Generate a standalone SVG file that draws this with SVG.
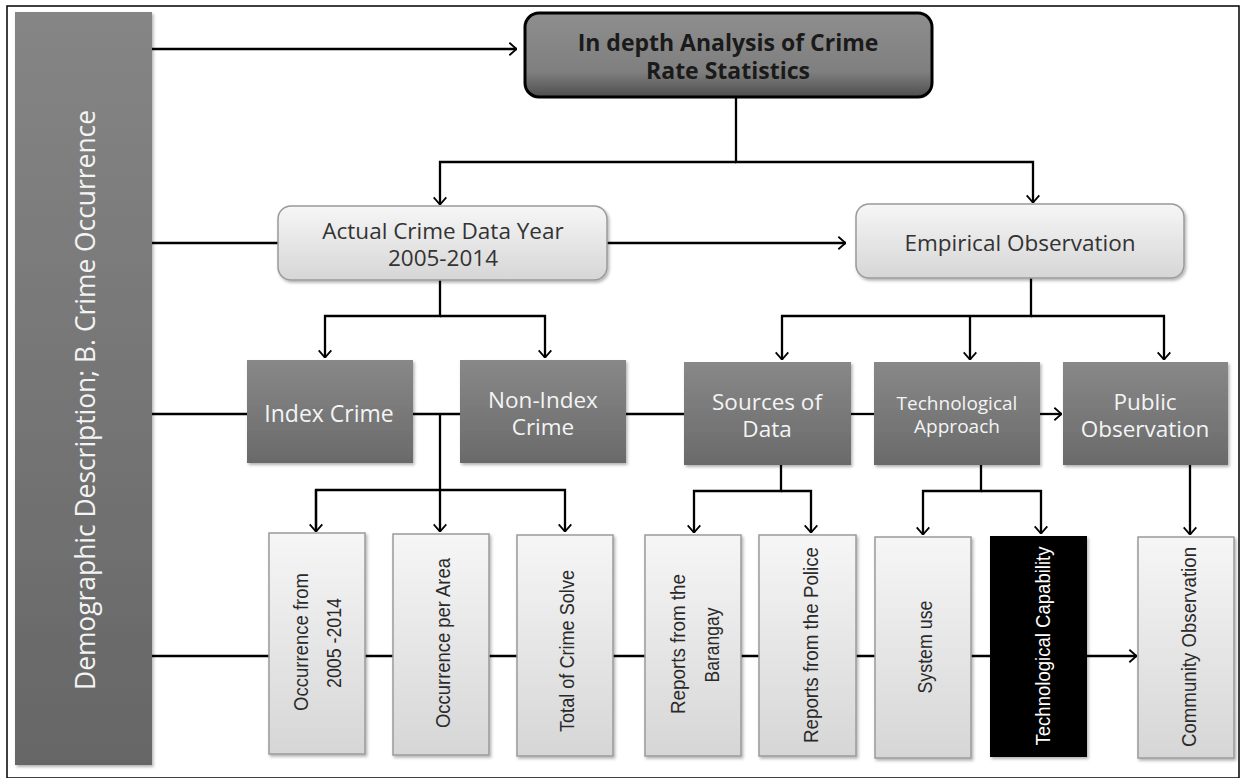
<svg xmlns="http://www.w3.org/2000/svg" width="1245" height="778" viewBox="0 0 1245 778">
<defs>
<linearGradient id="gTop" x1="0" y1="0" x2="0" y2="1">
<stop offset="0" stop-color="#8e8e8e"/><stop offset="0.7" stop-color="#7f7f7f"/><stop offset="1" stop-color="#4e4e4e"/>
</linearGradient>
<linearGradient id="gLight" x1="0" y1="0" x2="0" y2="1">
<stop offset="0" stop-color="#f6f6f6"/><stop offset="1" stop-color="#d6d6d6"/>
</linearGradient>
<linearGradient id="gMid" x1="0" y1="0" x2="0" y2="1">
<stop offset="0" stop-color="#888888"/><stop offset="1" stop-color="#6a6a6a"/>
</linearGradient>
<linearGradient id="gBar" x1="0" y1="0" x2="0" y2="1">
<stop offset="0" stop-color="#858585"/><stop offset="1" stop-color="#666666"/>
</linearGradient>
<filter id="sh" x="-10%" y="-10%" width="125%" height="125%">
<feDropShadow dx="1.5" dy="2" stdDeviation="1.5" flood-color="#000" flood-opacity="0.3"/>
</filter>
<marker id="arr" markerUnits="userSpaceOnUse" viewBox="0 0 10 16" refX="9.5" refY="8" markerWidth="9" markerHeight="15" orient="auto">
<path d="M1,1 L9,8 L1,15" fill="none" stroke="#000" stroke-width="2"/>
</marker>
</defs>
<style>
.ln{stroke:#000;stroke-width:2.3;fill:none}
.mid{fill:url(#gMid);filter:url(#sh)}
.lt{fill:url(#gLight);stroke:#9a9a9a;stroke-width:1.5;filter:url(#sh)}
.tw{font-family:"Open Sans","DejaVu Sans",sans-serif;fill:#f4f4f4;text-anchor:middle;dominant-baseline:central}
.td{font-family:"Open Sans","DejaVu Sans",sans-serif;fill:#333;text-anchor:middle;dominant-baseline:central}
.tv{font-family:"Liberation Sans",Arial,sans-serif;font-size:21px;fill:#2a2a2a;text-anchor:middle;dominant-baseline:central}
</style>
<rect x="7" y="6" width="1232" height="772" fill="#fff" stroke="#000" stroke-width="1.5"/>

<g id="connectors">
<path class="ln" d="M152,49 H517" marker-end="url(#arr)"/>
<path class="ln" d="M736,97 V162 H1033 V203" marker-end="url(#arr)"/>
<path class="ln" d="M736,162 H440 V205" marker-end="url(#arr)"/>
<path class="ln" d="M152,243 H278"/>
<path class="ln" d="M607,243 H846" marker-end="url(#arr)"/>
<path class="ln" d="M440,280 V316 H325 V358" marker-end="url(#arr)"/>
<path class="ln" d="M440,316 H545 V358" marker-end="url(#arr)"/>
<path class="ln" d="M1031,278 V316 H782 V360" marker-end="url(#arr)"/>
<path class="ln" d="M970,316 V360" marker-end="url(#arr)"/>
<path class="ln" d="M1031,316 H1164 V360" marker-end="url(#arr)"/>
<path class="ln" d="M152,414 H247"/>
<path class="ln" d="M413,414 H460"/>
<path class="ln" d="M626,414 H684"/>
<path class="ln" d="M851,414 H874"/>
<path class="ln" d="M1040,414 H1062" marker-end="url(#arr)"/>
<path class="ln" d="M440,414 V532" marker-end="url(#arr)"/>
<path class="ln" d="M316,531 V490 H565 V532" marker-end="url(#arr)"/>
<path class="ln" d="M316,490 V532" marker-end="url(#arr)"/>
<path class="ln" d="M781,465 V491 H694 V533" marker-end="url(#arr)"/>
<path class="ln" d="M781,491 H811 V533" marker-end="url(#arr)"/>
<path class="ln" d="M981,465 V491 H923 V535" marker-end="url(#arr)"/>
<path class="ln" d="M981,491 H1041 V534" marker-end="url(#arr)"/>
<path class="ln" d="M1190,465 V535" marker-end="url(#arr)"/>
<path class="ln" d="M152,656 H269 M365,656 H393 M489,656 H517 M613,656 H645 M741,656 H759 M856,656 H875 M971,656 H990"/>
<path class="ln" d="M1087,656 H1137" marker-end="url(#arr)"/>
</g>

<g id="demographic">
<rect x="15" y="12" width="137" height="753" fill="url(#gBar)" filter="url(#sh)"/>
<text class="tw" transform="translate(84,400) rotate(-90)" font-size="28" textLength="580" lengthAdjust="spacingAndGlyphs">Demographic Description; B. Crime Occurrence</text>
</g>

<g id="analysis">
<rect x="525" y="13" width="407" height="84" rx="14" fill="url(#gTop)" stroke="#000" stroke-width="3"/>
<text class="td" font-size="23" font-weight="bold" style="fill:#1a1a1a"><tspan x="728" y="42">In depth Analysis of Crime</tspan><tspan x="728" y="70">Rate Statistics</tspan></text>
</g>

<g id="actual">
<rect x="278" y="206" width="329" height="74" rx="13" fill="url(#gLight)" stroke="#9a9a9a" stroke-width="1.5" filter="url(#sh)"/>
<text class="td" font-size="22.5"><tspan x="443" y="230">Actual Crime Data Year</tspan><tspan x="443" y="257">2005-2014</tspan></text>
</g>

<g id="empirical">
<rect x="856" y="204" width="328" height="74" rx="13" fill="url(#gLight)" stroke="#9a9a9a" stroke-width="1.5" filter="url(#sh)"/>
<text class="td" font-size="22.5" x="1020" y="242">Empirical Observation</text>
</g>

<g id="index">
<rect class="mid" x="247" y="360" width="166" height="103"/>
<text class="tw" font-size="23" x="329" y="413">Index Crime</text>
</g>
<g id="nonindex">
<rect class="mid" x="460" y="360" width="166" height="103"/>
<text class="tw" font-size="22.5"><tspan x="543" y="399">Non-Index</tspan><tspan x="543" y="426">Crime</tspan></text>
</g>
<g id="sources">
<rect class="mid" x="684" y="362" width="167" height="103"/>
<text class="tw" font-size="22.5"><tspan x="767" y="401">Sources of</tspan><tspan x="767" y="428">Data</tspan></text>
</g>
<g id="techapproach">
<rect class="mid" x="874" y="362" width="166" height="103"/>
<text class="tw" font-size="19"><tspan x="957" y="403">Technological</tspan><tspan x="957" y="426">Approach</tspan></text>
</g>
<g id="public">
<rect class="mid" x="1063" y="362" width="165" height="103"/>
<text class="tw" font-size="22.5"><tspan x="1145" y="401">Public</tspan><tspan x="1145" y="428">Observation</tspan></text>
</g>

<g id="occ2005">
<rect class="lt" x="269" y="533" width="96" height="221"/>
<text class="tv" transform="translate(300,642) rotate(-90)" textLength="138" lengthAdjust="spacingAndGlyphs">Occurrence from</text>
<text class="tv" transform="translate(333,643) rotate(-90)" textLength="90" lengthAdjust="spacingAndGlyphs">2005 -2014</text>
</g>
<g id="occarea">
<rect class="lt" x="393" y="534" width="96" height="221"/>
<text class="tv" transform="translate(442,643) rotate(-90)" textLength="170" lengthAdjust="spacingAndGlyphs">Occurrence per Area</text>
</g>
<g id="total">
<rect class="lt" x="517" y="535" width="96" height="221"/>
<text class="tv" transform="translate(566,651) rotate(-90)" textLength="162" lengthAdjust="spacingAndGlyphs">Total of Crime Solve</text>
</g>
<g id="barangay">
<rect class="lt" x="645" y="535" width="96" height="221"/>
<text class="tv" transform="translate(677,644) rotate(-90)" textLength="140" lengthAdjust="spacingAndGlyphs">Reports from the</text>
<text class="tv" transform="translate(711,645) rotate(-90)" textLength="75" lengthAdjust="spacingAndGlyphs">Barangay</text>
</g>
<g id="police">
<rect class="lt" x="759" y="535" width="97" height="221"/>
<text class="tv" transform="translate(810,645) rotate(-90)" textLength="196" lengthAdjust="spacingAndGlyphs">Reports from the Police</text>
</g>
<g id="systemuse">
<rect class="lt" x="875" y="537" width="96" height="221"/>
<text class="tv" transform="translate(924,647) rotate(-90)" textLength="93" lengthAdjust="spacingAndGlyphs">System use</text>
</g>
<g id="techcap">
<rect x="990" y="536" width="97" height="221" fill="#000" filter="url(#sh)"/>
<text class="tv" style="fill:#fff" transform="translate(1042,646) rotate(-90)" textLength="199" lengthAdjust="spacingAndGlyphs">Technological Capability</text>
</g>
<g id="community">
<rect class="lt" x="1138" y="537" width="96" height="221"/>
<text class="tv" transform="translate(1188,647) rotate(-90)" textLength="200" lengthAdjust="spacingAndGlyphs">Community Observation</text>
</g>
</svg>
